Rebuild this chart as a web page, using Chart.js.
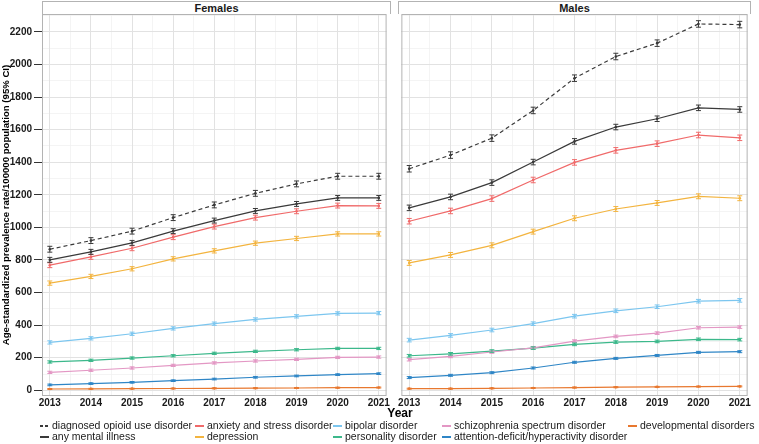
<!DOCTYPE html>
<html>
<head>
<meta charset="utf-8">
<script src="https://cdn.jsdelivr.net/npm/chart.js@4"></script>
<style>
  body { margin: 0; background: #fff; font-family: 'Liberation Sans', Arial, sans-serif; }
  #wrap { position: relative; width: 759px; height: 444px; overflow: hidden; }
  .panel { position: absolute; }
  .strip { position: absolute; top: 1px; height: 13px; border: 1px solid #b3b3b3; border-bottom: none;
           box-sizing: border-box; font-weight: bold; font-size: 11px; line-height: 13px; text-align: center; color: #1a1a1a; }
  #xtitle { position: absolute; left: 370px; width: 60px; top: 406px; text-align: center; font-weight: bold; font-size: 12px; color: #000; }
  .leg { position: absolute; font-size: 10.5px; color: #1a1a1a; white-space: nowrap; line-height: 12px; }
  .key { position: absolute; left: 0; top: 6px; width: 9px; height: 2px; }
  .txt { margin-left: 12px; }
</style>
</head>
<body>
<div id="wrap">
  <div class="strip" style="left:42px; width:349px;">Females</div>
  <div class="strip" style="left:398px; width:353px;">Males</div>
  <div class="panel" style="left:0; top:0; width:391px; height:410px;"><canvas id="females"></canvas></div>
  <div class="panel" style="left:397px; top:0; width:355px; height:410px;"><canvas id="males"></canvas></div>
  <div id="xtitle">Year</div>
  <div id="legend"></div>
</div>
<script>
document.addEventListener('DOMContentLoaded', init);

const years = [2013, 2014, 2015, 2016, 2017, 2018, 2019, 2020, 2021];

const seriesNames = ['diagnosed opioid use disorder', 'any mental illness', 'anxiety and stress disorder', 'depression',
    'bipolar disorder', 'personality disorder', 'schizophrenia spectrum disorder',
    'attention-deficit/hyperactivity disorder', 'developmental disorders'];
const seriesColors = ['#3a3a3a', '#3a3a3a', '#f06a6a', '#f3b43f', '#7cc6ef', '#3cb88b', '#e397c4', '#2f86c6', '#e8782f'];
const seriesDash = [[4, 3], [], [], [], [], [], [], [], []];

// Females, age-standardized prevalence per 100000
const fOpioid = [866, 919, 977, 1060, 1138, 1209, 1267, 1314, 1314];
const fAnyMI = [801, 850, 905, 977, 1042, 1101, 1144, 1181, 1181];
const fAnxiety = [768, 819, 872, 940, 1005, 1060, 1099, 1134, 1132];
const fDepression = [658, 699, 746, 807, 856, 903, 932, 960, 960];
const fBipolar = [294, 319, 347, 380, 409, 435, 454, 472, 474];
const fPersonality = [174, 184, 198, 212, 227, 239, 249, 257, 257];
const fSchizo = [110, 123, 137, 153, 168, 180, 190, 202, 204];
const fADHD = [33, 41, 49, 59, 69, 80, 88, 96, 102];
const fDevelop = [8, 9, 10, 11, 12, 13, 14, 16, 17];

// Males
const mOpioid = [1360, 1444, 1548, 1718, 1916, 2049, 2131, 2249, 2245];
const mAnyMI = [1120, 1187, 1275, 1401, 1528, 1616, 1667, 1734, 1724];
const mAnxiety = [1038, 1101, 1177, 1291, 1399, 1473, 1514, 1567, 1550];
const mDepression = [782, 831, 890, 974, 1056, 1113, 1150, 1191, 1179];
const mBipolar = [308, 337, 370, 409, 455, 488, 513, 547, 552];
const mPersonality = [212, 224, 241, 259, 282, 296, 300, 313, 311];
const mSchizo = [188, 208, 235, 261, 302, 331, 351, 384, 388];
const mADHD = [78, 92, 108, 137, 172, 196, 214, 233, 237];
const mDevelop = [10, 10, 12, 14, 17, 19, 21, 23, 24];

// 95% CI half widths per series
const fCI = [18, 15, 15, 13, 10, 7, 7, 5, 3];
const mCI = [20, 17, 17, 15, 11, 8, 8, 6, 3];

const yMin = -35, yMax = 2310;
const xMin = 2012.81, xMax = 2021.19;
const fontFam = "'Liberation Sans', Arial, sans-serif";

const errorBars = {
    id: 'errorBars',
    afterDatasetsDraw(chart, args, opts) {
        const ctx = chart.ctx, ys = chart.scales.y;
        chart.data.datasets.forEach((ds, i) => {
            const meta = chart.getDatasetMeta(i);
            ctx.save();
            ctx.strokeStyle = ds.borderColor;
            ctx.lineWidth = 1;
            meta.data.forEach((pt, j) => {
                const v = ds.data[j].y;
                const top = ys.getPixelForValue(v + opts.ci[i]);
                const bot = ys.getPixelForValue(v - opts.ci[i]);
                ctx.beginPath();
                ctx.moveTo(pt.x, top); ctx.lineTo(pt.x, bot);
                ctx.moveTo(pt.x - 2.5, top); ctx.lineTo(pt.x + 2.5, top);
                ctx.moveTo(pt.x - 2.5, bot); ctx.lineTo(pt.x + 2.5, bot);
                ctx.stroke();
            });
            ctx.restore();
        });
    }
};

const panelBorder = {
    id: 'panelBorder',
    afterDraw(chart) {
        const a = chart.chartArea, ctx = chart.ctx;
        ctx.save();
        ctx.strokeStyle = '#b3b3b3';
        ctx.lineWidth = 1;
        ctx.strokeRect(a.left + 0.5, a.top + 0.5, a.right - a.left - 1, a.bottom - a.top - 1);
        ctx.restore();
    }
};

function buildDatasets(values)
{
    return values.map((vals, i) => ({
        label: seriesNames[i],
        data: vals.map((v, j) => ({ x: years[j], y: v })),
        borderColor: seriesColors[i],
        backgroundColor: seriesColors[i],
        borderDash: seriesDash[i],
        borderWidth: 1.2,
        pointRadius: 1.3,
        pointBorderWidth: 0,
        tension: 0
    })).reverse();
}

function createPanel(id, values, ci, showY)
{
    const ctx = document.getElementById(id).getContext('2d');
    const ciOrdered = ci.slice().reverse();
    new Chart(ctx, {
        type: 'line',
        data: { datasets: buildDatasets(values) },
        plugins: [errorBars, panelBorder],
        options: {
            responsive: true,
            maintainAspectRatio: false,
            animation: false,
            events: [],
            layout: { padding: { top: 14, right: 1, left: showY ? 0 : 1, bottom: 0 } },
            plugins: {
                legend: { display: false },
                tooltip: { enabled: false },
                errorBars: { ci: ciOrdered }
            },
            scales: {
                xMinor: {
                    type: 'linear', position: 'bottom', min: xMin, max: xMax,
                    ticks: { display: false, stepSize: 0.5, includeBounds: false },
                    afterBuildTicks: s => { s.ticks = s.ticks.filter(t => Math.abs(t.value % 1 - 0.5) < 1e-6); },
                    afterFit: s => { s.height = 0; },
                    grid: { color: '#f1f1f1', lineWidth: 0.8, drawTicks: false },
                    border: { display: false }
                },
                yMinor: {
                    type: 'linear', position: 'left', min: yMin, max: yMax,
                    ticks: { display: false, stepSize: 100, includeBounds: false },
                    afterBuildTicks: s => { s.ticks = s.ticks.filter(t => t.value % 200 === 100); },
                    afterFit: s => { s.width = 0; },
                    grid: { color: '#f1f1f1', lineWidth: 0.8, drawTicks: false },
                    border: { display: false }
                },
                x: {
                    type: 'linear', position: 'bottom', min: xMin, max: xMax,
                    ticks: {
                        stepSize: 1, padding: 1, color: '#1a1a1a', maxRotation: 0,
                        autoSkip: false, includeBounds: false,
                        font: { family: fontFam, size: 10, weight: 'bold' },
                        callback: v => String(v)
                    },
                    afterBuildTicks: s => { s.ticks = s.ticks.filter(t => Number.isInteger(t.value)); },
                    afterFit: s => { s.height = 14; },
                    grid: { color: '#e2e2e2', lineWidth: 1, drawTicks: false },
                    border: { display: false }
                },
                y: {
                    type: 'linear', position: 'left', min: yMin, max: yMax,
                    ticks: {
                        display: showY, stepSize: 200, padding: 2, color: '#1a1a1a',
                        autoSkip: false, includeBounds: false,
                        font: { family: fontFam, size: 10, weight: 'bold' },
                        callback: v => String(v)
                    },
                    afterBuildTicks: s => { s.ticks = s.ticks.filter(t => t.value >= 0 && t.value % 200 === 0); },
                    afterFit: s => { s.width = showY ? 42 : 0; },
                    title: {
                        display: showY,
                        text: 'Age-standardized prevalence rate/100000 population (95% CI)',
                        color: '#000', padding: { top: 1, bottom: 0 },
                        font: { family: fontFam, size: 9.6, weight: 'bold' }
                    },
                    grid: { color: '#e2e2e2', lineWidth: 1, drawTicks: showY, tickLength: 8, tickColor: '#333' },
                    border: { display: false }
                }
            }
        }
    });
}

function createLegend()
{
    const legend = document.getElementById('legend');
    // column-wise order: two rows
    const colLeft = [40, 195, 333, 442, 628];
    const rowTop = [419, 430];
    seriesNames.forEach((name, i) => {
        const col = Math.floor(i / 2), row = i % 2;
        const el = document.createElement('div');
        el.className = 'leg';
        el.style.left = colLeft[col] + 'px';
        el.style.top = rowTop[row] + 'px';
        const key = document.createElement('span');
        key.className = 'key';
        if (seriesDash[i].length) {
            key.style.background = 'repeating-linear-gradient(to right, ' + seriesColors[i] + ' 0 3px, transparent 3px 5px)';
        } else {
            key.style.background = seriesColors[i];
        }
        const txt = document.createElement('span');
        txt.className = 'txt';
        txt.textContent = name;
        el.appendChild(key);
        el.appendChild(txt);
        legend.appendChild(el);
    });
}

function init()
{
    createPanel('females', [fOpioid, fAnyMI, fAnxiety, fDepression, fBipolar, fPersonality, fSchizo, fADHD, fDevelop], fCI, true);
    createPanel('males', [mOpioid, mAnyMI, mAnxiety, mDepression, mBipolar, mPersonality, mSchizo, mADHD, mDevelop], mCI, false);
    createLegend();
}
</script>
</body>
</html>
